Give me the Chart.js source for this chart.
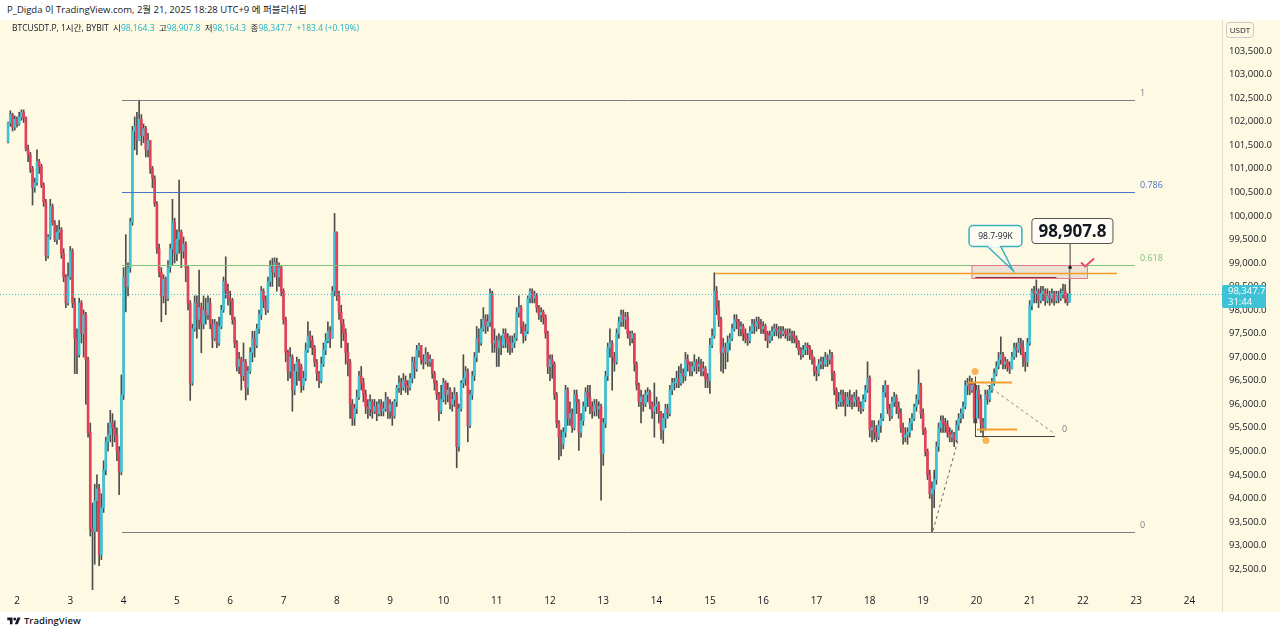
<!DOCTYPE html>
<html lang="ko">
<head>
<meta charset="utf-8">
<title>BTCUSDT.P 1시간 BYBIT</title>
<script src="https://cdn.jsdelivr.net/npm/chart.js@4.4.1/dist/chart.umd.min.js"></script>
<style>
  html, body { margin: 0; padding: 0; background: #ffffff; }
  body { width: 1280px; height: 634px; position: relative; overflow: hidden;
         font-family: "Open Sans", "Noto Sans CJK KR", sans-serif; color: #131722; }
  #title { position: absolute; left: 7px; top: 3px; font-size: 9.5px; line-height: 14px; }
  #box { position: absolute; left: 0; top: 20px; width: 1280px; height: 592px; }
  #legend { position: absolute; left: 12px; top: 21px; font-size: 8.5px; line-height: 14px; white-space: pre; z-index: 2; }
  #legend .v { color: #22b3c9; }
  #footer { position: absolute; left: 7px; top: 614px; font-size: 9.5px; font-weight: 600; line-height: 14px; }
  #footer svg { vertical-align: -1px; margin-right: 3px; }
</style>
</head>
<body>
<div id="title">P_Digda 이 TradingView.com, 2월 21, 2025 18:28 UTC+9 에 퍼블리쉬됨</div>
<div id="box"><canvas id="c" width="1280" height="592"></canvas></div>
<div id="legend">BTCUSDT.P, 1시간, BYBIT  시<span class="v">98,164.3</span>  고<span class="v">98,907.8</span>  저<span class="v">98,164.3</span>  종<span class="v">98,347.7</span>  <span class="v">+183.4 (+0.19%)</span></div>
<div id="footer"><svg width="14" height="9" viewBox="0 0 36 24"><path d="M14 22H7V11H0V4h14v18zM28 22h-8l7.5-18h8L28 22z" fill="#131722"/><circle cx="20" cy="8" r="4" fill="#131722"/></svg>TradingView</div>

<script>
// hourly candles, first one is Feb 1 20:00 (hours counted from Feb 2 00:00)
const firstHour = -4;
const startOpen = 101570;

const dayLabels = [2, 3, 4, 5, 6, 7, 8, 9, 10, 11, 12, 13, 14, 15, 16, 17, 18, 19, 20, 21, 22, 23, 24];
const priceTicks = [92500, 93000, 93500, 94000, 94500, 95000, 95500, 96000, 96500, 97000, 97500,
  98000, 98500, 99000, 99500, 100000, 100500, 101000, 101500, 102000, 102500, 103000, 103500];

const closes = [
  101970,102150,101880,102050,101950,102100,102200,102080,101420,101300,
  101000,100600,100700,101150,101050,100650,100300,99150,99550,100200,
  99850,99500,99650,99700,99200,98700,98150,98700,99250,98150,
  97400,97050,98150,97500,97900,96950,95400,93350,93300,93950,
  94200,92800,93800,94600,95200,95350,95600,95500,95350,95000,
  94560,96200,98700,98500,98900,99870,101800,101900,101600,102050,
  101700,101850,101400,101600,101000,100800,100250,99300,98800,98300,
  98650,98250,98900,99300,99870,99200,99500,99650,99250,99400,
  98900,98150,96450,97600,98150,97800,98050,97700,98000,97900,
  98150,97700,97400,97700,97300,97650,98000,98600,98400,98250,
  98200,97800,97300,96800,96950,96600,96900,96350,96700,97100,
  97400,97250,97600,97900,98400,98200,98000,98600,98950,98800,
  99000,98700,98900,98400,97800,97100,96700,97000,96300,96700,
  96900,96800,96400,96550,97150,97450,97350,97200,96900,96650,
  96500,96850,97150,97350,97550,97400,98400,99650,98300,97950,
  97700,97500,97100,96900,96000,95700,95900,96150,96600,96450,
  96200,95950,95900,96050,95850,95950,95800,96000,95850,95900,
  96100,95850,96000,95750,96050,96350,96450,96350,96500,96400,
  96350,96550,96900,96750,97150,97250,96950,96900,97050,96900,
  96950,96650,96450,96200,95850,96100,96450,96200,96300,96000,
  96100,96200,95100,95900,96450,96550,96700,95550,96200,96600,
  97000,97400,97300,97600,97800,97650,97750,98350,97300,97350,
  97200,97350,97250,97500,97400,97300,97200,97300,97400,97950,
  98050,97650,97450,97550,98250,98400,98250,98300,98050,97900,
  97950,97850,97500,96800,96950,96850,96200,95600,95300,95150,
  95400,96300,95700,95800,95500,96200,96050,95400,95650,95950,
  96250,96150,95950,95850,96000,95900,95950,94950,95600,96600,
  97200,97300,97000,96900,97500,97750,97900,97800,97850,97500,
  97400,97500,96850,96400,96050,96150,96000,96200,96250,96000,
  95850,95950,96000,95800,95450,95700,95900,95800,96300,96450,
  96450,96550,96450,96650,96600,96950,96850,96700,96800,96900,
  96800,96850,96700,96750,96550,96500,97250,97450,98400,98050,
  97800,97100,97200,97100,97300,97400,97600,97800,97750,97600,
  97650,97500,97400,97350,97550,97700,97650,97750,97700,97600,
  97650,97500,97350,97450,97550,97600,97550,97550,97500,97550,
  97500,97450,97500,97450,97400,97300,97150,97050,97150,97250,
  97200,97050,96950,96700,96650,96850,96900,96850,97000,96950,
  97050,96650,96300,96000,96050,96200,96100,96000,96150,96100,
  96050,96150,96100,95950,95900,96100,96300,96550,95450,95500,
  95400,95300,95550,95700,96250,96400,95900,95750,96050,96150,
  95950,95800,95500,95300,95350,95400,95600,95700,95950,96100,
  96400,95800,95450,95000,94500,94100,94200,94400,95100,95500,
  95650,95600,95550,95400,95300,95350,95250,95550,95700,95800,
  95950,96400,96450,96300,96400,95700,96300,96100,95600,95500,
  96200,96100,96300,96450,96650,96800,96950,97050,96850,96900,
  96800,96750,97000,97200,97150,97300,97200,97000,96900,97300,
  98100,98400,98350,98400,98200,98350,98400,98200,98300,98250,
  98350,98200,98300,98250,98350,98400,98250,98164.3,98347.7
];

const highs = [
  101990,102230,102180,102120,102100,102200,102250,102250,102100,101500,
  101350,101050,100800,101400,101200,101100,100700,100350,99600,100350,
  100250,99900,99800,99900,99750,99300,98750,99000,99350,99300,
  98250,97600,98250,98200,98000,97950,97000,95600,93900,94300,
  94500,94300,94100,94800,95300,95600,95870,95800,95650,95500,
  95100,96620,98900,99600,99000,99950,101900,102100,102200,102460,
  102150,101950,101900,101750,101600,101050,100850,100300,99400,98900,
  98750,98700,99050,99400,100350,99950,99700,100760,99700,99550,
  99450,98950,98200,97700,98300,98300,98850,98150,98300,98250,
  98300,98250,97800,97800,97750,97850,98100,98700,99130,98550,
  98400,98250,97850,97350,97100,97000,97300,96950,96800,97200,
  97550,97550,97700,98000,98500,98450,98300,98700,99050,99100,
  99110,99100,99000,98950,98450,97850,97150,97200,97050,96850,
  97000,96950,96850,96700,97300,97750,97550,97450,97250,96950,
  96700,97000,97300,97500,97750,97650,98500,100050,99660,98400,
  98100,97800,97600,97300,96950,96100,96000,96300,96700,96800,
  96550,96300,96100,96200,96100,96100,96050,96100,96100,96050,
  96250,96150,96100,96050,96100,96400,96600,96550,96650,96600,
  96500,96650,97000,97000,97250,97300,97250,97050,97200,97100,
  97050,96950,96700,96500,96250,96400,96550,96500,96450,96350,
  96250,96350,96250,96000,96500,97050,96800,96750,96300,96700,
  97100,97650,97600,97800,98050,97900,97900,98450,98400,97600,
  97450,97500,97450,97600,97600,97500,97450,97450,97500,98050,
  98300,98100,97750,97700,98300,98450,98450,98400,98350,98100,
  98050,98000,97900,97550,97050,97050,96900,96250,95650,95450,
  95500,96400,96350,96050,95900,96300,96300,96100,95800,96050,
  96350,96400,96400,96050,96100,96100,96050,96000,95700,96700,
  97300,97600,97350,97100,97600,97850,98000,98000,97950,97950,
  97550,97550,97500,96900,96450,96300,96200,96300,96350,96300,
  96050,96450,96150,96050,95850,95800,96000,96000,96400,96550,
  96550,96700,96800,96850,96750,97100,97050,96900,96900,97050,
  96950,97000,96950,96900,96800,96650,97400,97600,98790,98500,
  98200,97850,97400,97300,97450,97500,97700,97900,97900,97800,
  97750,97700,97600,97500,97650,97800,97800,97850,97850,97800,
  97750,97700,97550,97550,97650,97700,97700,97650,97650,97650,
  97600,97600,97600,97550,97550,97450,97350,97200,97250,97300,
  97300,97250,97150,97000,96800,96950,97000,97000,97100,97050,
  97150,97100,96700,96350,96250,96300,96300,96250,96250,96300,
  96200,96250,96300,96150,96050,96200,96400,96900,96600,95650,
  95650,95550,95650,95800,96400,96500,96400,96000,96150,96250,
  96200,96050,95900,95600,95500,95500,95700,95800,96000,96200,
  96730,96450,95900,95500,95050,94600,94350,94600,95200,95600,
  95750,95750,95700,95650,95500,95450,95400,95650,95800,95900,
  96050,96500,96550,96600,96550,96450,96400,96400,96200,95700,
  96300,96300,96400,96550,96750,96900,97100,97430,97100,97000,
  96950,96900,97100,97300,97300,97400,97400,97350,97100,97400,
  98200,98450,98500,98640,98450,98500,98500,98450,98450,98400,
  98450,98400,98400,98400,98450,98550,98540,98350,98907.8
];

const lows = [
  101550,101900,101800,101820,101880,101920,102030,101980,101380,101150,
  100920,100230,100500,100650,100900,100600,100200,99050,99100,99500,
  99800,99450,99400,99500,99100,98600,98050,98100,98650,98050,
  96650,96650,97000,97300,97000,96000,95300,93200,91500,92600,
  93300,92570,92700,93700,94500,95000,95200,95100,95200,94800,
  94080,94500,96100,97960,98300,98800,99800,101400,101300,101600,
  101500,101550,101250,101250,100900,100600,100200,99200,98700,97750,
  98150,97900,98200,98800,98950,99000,99050,99200,98900,99100,
  98600,98000,96080,96400,97550,97400,97600,97090,97600,97700,
  97800,97600,97200,97350,97200,97250,97600,97950,98250,98100,
  97900,97700,97200,96700,96650,96300,96500,96090,96200,96650,
  96900,97000,97200,97500,97800,98050,97900,97950,98500,98500,
  98700,98400,98500,98300,97700,96900,96500,96550,95850,96200,
  96400,96500,96250,96300,96500,97100,97200,97050,96800,96500,
  96350,96450,96800,97050,97300,97200,97400,98300,98200,97800,
  97200,97350,96850,96600,95700,95550,95550,95800,96100,96300,
  96050,95800,95700,95750,95700,95800,95650,95750,95750,95750,
  95850,95700,95700,95550,95700,95950,96250,96200,96300,96250,
  96200,96300,96450,96550,96700,97000,96850,96750,96850,96800,
  96800,96550,96300,96100,95650,95800,96050,96000,96050,95900,
  95850,95950,94650,95000,95850,96350,96400,95200,95500,96100,
  96500,96900,97100,97250,97550,97500,97550,97650,97100,97100,
  96800,96800,97050,97200,97200,97100,97050,97100,97200,97350,
  97850,97500,97300,97350,97500,98150,98150,98150,97950,97800,
  97750,97700,97400,96650,96500,96550,96100,95500,94820,94900,
  95050,95300,95550,95550,95400,95450,95800,95020,95300,95550,
  95850,95950,95800,95700,95750,95750,95700,93960,94700,95500,
  96500,97000,96300,96700,96850,97400,97650,97650,97600,97400,
  97250,97300,96700,96300,95950,95600,95850,95950,96050,95900,
  95700,95300,95800,95600,95250,95170,95500,95700,95750,96200,
  96300,96350,96350,96400,96450,96500,96700,96600,96600,96700,
  96650,96700,96600,96600,96350,96350,96230,97200,97400,97900,
  97650,96700,96660,96750,96900,97150,97350,97550,97600,97450,
  97450,97350,97300,97250,97300,97500,97500,97550,97600,97500,
  97500,97350,97200,97300,97350,97450,97450,97400,97400,97450,
  97400,97350,97350,97300,97300,97200,97050,96950,97000,97050,
  97050,96950,96850,96600,96500,96600,96750,96750,96800,96800,
  96850,96500,96200,95900,95950,95950,95950,95750,95950,95950,
  95900,95950,95950,95850,95800,95850,96050,96250,95300,95200,
  95250,95200,95250,95400,95650,96150,95800,95650,95700,95950,
  95800,95700,95400,95150,95200,95150,95300,95450,95650,95850,
  96000,95700,95350,94900,94400,94000,93290,93800,94300,95000,
  95400,95400,95400,95300,95200,95200,95100,95200,95450,95600,
  95700,95900,96200,96200,96250,95600,95600,95700,95400,95300,
  95450,96000,96050,96250,96400,96600,96750,96850,96750,96750,
  96700,96650,96750,96950,97000,97100,97050,96800,96700,96800,
  97250,98000,98150,98150,98050,98150,98200,98100,98150,98100,
  98150,98100,98150,98150,98200,98250,98150,98100,98164.3
];

if (closes.length !== highs.length || closes.length !== lows.length) {
  throw new Error('length mismatch ' + closes.length + ' ' + highs.length + ' ' + lows.length);
}

// fib retracement drawn on the chart
const fibHigh = 102460;
const fibLow = 93290;
const fibLevels = [1, 0.786, 0.618, 0];
const fibColors = ['#7d7f88', '#4b74c6', '#7dc27e', '#7d7f88'];
const lastPrice = 98347.7;

const UP = '#3ec2d6';
const DOWN = '#e3415a';
const WICK = '#4d4d4d';
const PANE_BG = '#fdf9e2';
const FONT = "'Open Sans', 'Noto Sans CJK KR', sans-serif";

// visible window (hours from Feb 2 00:00, price)
const xMin = -7.65, xMax = 542.6;
const yMin = 92054, yMax = 104158;

const opens = closes.map((c, i) => i === 0 ? startOpen : closes[i - 1]);
const bodyData = closes.map((c, i) => ({ x: firstHour + i, y: [opens[i], c] }));
const wickData = closes.map((c, i) => ({
  x: firstHour + i,
  y: [Math.min(lows[i], opens[i], c), Math.max(highs[i], opens[i], c)]
}));
const bodyColors = closes.map((c, i) => c >= opens[i] ? UP : DOWN);

function seg(ctx, x1, y1, x2, y2, color, width, dash) {
  ctx.save();
  ctx.strokeStyle = color;
  ctx.lineWidth = width;
  ctx.setLineDash(dash || []);
  ctx.beginPath();
  ctx.moveTo(x1, y1);
  ctx.lineTo(x2, y2);
  ctx.stroke();
  ctx.restore();
}

function rrect(ctx, x, y, w, h, r) {
  ctx.beginPath();
  ctx.moveTo(x + r, y);
  ctx.arcTo(x + w, y, x + w, y + h, r);
  ctx.arcTo(x + w, y + h, x, y + h, r);
  ctx.arcTo(x, y + h, x, y, r);
  ctx.arcTo(x, y, x + w, y, r);
  ctx.closePath();
}

const drawings = {
  id: 'drawings',
  beforeDraw(chart) {
    const { ctx, chartArea: a } = chart;
    ctx.save();
    ctx.fillStyle = PANE_BG;
    ctx.fillRect(0, 0, chart.width, chart.height);
    ctx.restore();
    seg(ctx, a.right + 0.5, 0, a.right + 0.5, chart.height, '#e2dece', 1);
  },
  afterDatasetsDraw(chart) {
    const { ctx, chartArea: a, scales } = chart;
    const X = v => scales.x.getPixelForValue(v);
    const Y = v => Math.round(scales.y.getPixelForValue(v)) + 0.5;
    ctx.save();
    ctx.beginPath();
    ctx.rect(a.left, a.top, a.right - a.left, a.bottom - a.top);
    ctx.clip();

    // last price dotted line
    seg(ctx, a.left, Y(lastPrice), a.right, Y(lastPrice), '#3ec2d6', 1, [1, 2]);

    // fib levels
    ctx.font = '9px ' + FONT;
    ctx.textBaseline = 'bottom';
    fibLevels.forEach((lv, k) => {
      const py = Y(fibLow + (fibHigh - fibLow) * lv);
      seg(ctx, X(47.3), py, X(503.4), py, fibColors[k], 1);
      ctx.fillStyle = fibColors[k];
      ctx.fillText(String(lv), X(503.4) + 5, py - 3);
    });

    // resistance zone
    const zx1 = X(430), zx2 = X(482), zy1 = Y(98955), zy2 = Y(98680);
    ctx.fillStyle = 'rgba(215, 205, 200, 0.5)';
    ctx.fillRect(zx1, zy1, zx2 - zx1, zy2 - zy1);
    ctx.strokeStyle = '#e27a8c';
    ctx.lineWidth = 1;
    ctx.strokeRect(zx1, zy1, zx2 - zx1, zy2 - zy1);
    seg(ctx, X(431.5), Y(98700), X(468), Y(98700), '#8c2b3c', 1);

    // horizontal line from the Feb 15 spike
    seg(ctx, X(314.3), Y(98790), X(495.3), Y(98790), '#f59b2b', 1.5);

    // small tool around Feb 20
    seg(ctx, X(412.5), Y(93320), X(423.7), Y(95240), '#666666', 1, [3, 3]);
    seg(ctx, X(434.5), Y(96500), X(466.5), Y(95400), '#8a8a8a', 1, [3, 3]);
    seg(ctx, X(431.6), Y(96600), X(431.6), Y(95330), '#444444', 1);
    seg(ctx, X(431.4), Y(95330), X(467.4), Y(95330), '#444444', 1);
    seg(ctx, X(428.2), Y(96480), X(448), Y(96480), '#f5a030', 2);
    seg(ctx, X(432.3), Y(95470), X(450.3), Y(95470), '#f5a030', 2);
    ctx.fillStyle = '#f7b55a';
    [[431.4, 96700], [436.3, 95240]].forEach(p => {
      ctx.beginPath();
      ctx.arc(X(p[0]), Y(p[1]), 3.5, 0, Math.PI * 2);
      ctx.fill();
    });
    ctx.fillStyle = '#7d7f88';
    ctx.font = '9px ' + FONT;
    ctx.textBaseline = 'middle';
    ctx.fillText('0', X(470.6), Y(95470));

    // callout "98.7-99K"
    const b1x = X(428.7), b1y = Y(99810), b1w = X(452.5) - b1x, b1h = Y(99360) - b1y;
    ctx.fillStyle = '#fdfcf2';
    ctx.strokeStyle = '#3aafc2';
    ctx.lineWidth = 1.5;
    ctx.beginPath();
    ctx.moveTo(b1x + b1w * 0.35, b1y + b1h);
    ctx.lineTo(X(448.5), Y(98850));
    ctx.lineTo(b1x + b1w * 0.6, b1y + b1h);
    ctx.stroke();
    rrect(ctx, b1x, b1y, b1w, b1h, 4);
    ctx.fill();
    ctx.stroke();
    ctx.fillStyle = '#fdfcf2';
    ctx.fillRect(b1x + b1w * 0.35 + 1, b1y + b1h - 2, b1w * 0.25 - 2, 3);
    ctx.fillStyle = '#131722';
    ctx.font = '8.5px ' + FONT;
    ctx.textAlign = 'center';
    ctx.fillText('98.7-99K', b1x + b1w / 2, b1y + b1h / 2 + 0.5);

    // callout with the high of the last candle
    const b2x = X(457), b2y = Y(99955), b2w = X(493.5) - b2x, b2h = Y(99425) - b2y;
    seg(ctx, X(474.2), b2y + b2h, X(474.2), Y(98907.8), '#444444', 1);
    ctx.fillStyle = '#222222';
    ctx.beginPath();
    ctx.arc(X(474.2), Y(98907.8), 1.8, 0, Math.PI * 2);
    ctx.fill();
    rrect(ctx, b2x, b2y, b2w, b2h, 3);
    ctx.fillStyle = '#fffdf3';
    ctx.fill();
    ctx.strokeStyle = '#555555';
    ctx.lineWidth = 1;
    ctx.stroke();
    ctx.fillStyle = '#131722';
    ctx.font = 'bold 17px ' + FONT;
    ctx.fillText('98,907.8', b2x + b2w / 2, b2y + b2h / 2 + 1);

    // check mark
    const cx = X(481.4), cy = Y(99000);
    ctx.strokeStyle = '#e84a6a';
    ctx.lineWidth = 2;
    ctx.beginPath();
    ctx.moveTo(cx - 5, cy - 1);
    ctx.lineTo(cx - 1, cy + 3);
    ctx.lineTo(cx + 8, cy - 5);
    ctx.stroke();
    ctx.restore();
  },
  afterDraw(chart) {
    const { ctx, chartArea: a, scales } = chart;
    const py = scales.y.getPixelForValue(lastPrice);
    ctx.save();
    ctx.fillStyle = '#3ec2d6';
    rrect(ctx, a.right, py - 8.5, 44, 23, 2);
    ctx.fill();
    ctx.fillStyle = '#ffffff';
    ctx.font = '9.5px ' + FONT;
    ctx.textBaseline = 'middle';
    ctx.fillText('98,347.7', a.right + 6, py - 2);
    ctx.fillText('31:44', a.right + 6, py + 9);
    // currency box
    ctx.strokeStyle = '#c9c9c9';
    ctx.lineWidth = 1;
    rrect(ctx, a.right + 4.5, 2.5, 27, 15, 3);
    ctx.stroke();
    ctx.fillStyle = '#131722';
    ctx.font = '8px ' + FONT;
    ctx.textAlign = 'center';
    ctx.fillText('USDT', a.right + 18, 10.5);
    ctx.restore();
  }
};

new Chart(document.getElementById('c'), {
  type: 'bar',
  data: {
    datasets: [
      { label: 'body', data: bodyData, backgroundColor: bodyColors, barThickness: 2,
        minBarLength: 1, grouped: false, order: 0, borderWidth: 0, clip: 0 },
      { label: 'wick', data: wickData, backgroundColor: WICK, barThickness: 1,
        grouped: false, order: 1, borderWidth: 0, clip: 0 }
    ]
  },
  options: {
    responsive: false,
    animation: false,
    events: [],
    layout: { padding: 0 },
    plugins: { legend: { display: false }, tooltip: { enabled: false } },
    scales: {
      x: {
        type: 'linear', min: xMin, max: xMax, offset: false,
        grid: { display: false, drawTicks: false }, border: { display: false },
        afterBuildTicks: s => { s.ticks = dayLabels.map(d => ({ value: (d - 2) * 24 })); },
        afterFit: s => { s.height = 22; s.paddingLeft = 0; s.paddingRight = 0; },
        ticks: { autoSkip: false, maxRotation: 0, padding: 5, color: '#131722',
          font: { family: FONT, size: 10 }, callback: v => String(v / 24 + 2) }
      },
      y: {
        position: 'right', min: yMin, max: yMax,
        grid: { display: false, drawTicks: false }, border: { display: false },
        afterBuildTicks: s => { s.ticks = priceTicks.map(v => ({ value: v })); },
        afterFit: s => { s.width = 58; s.paddingTop = 0; s.paddingBottom = 0; },
        ticks: { padding: 7, color: '#131722', font: { family: FONT, size: 9.5 },
          callback: v => v.toLocaleString('en-US', { minimumFractionDigits: 1, maximumFractionDigits: 1 }) }
      }
    }
  },
  plugins: [drawings]
});
</script>
</body>
</html>
